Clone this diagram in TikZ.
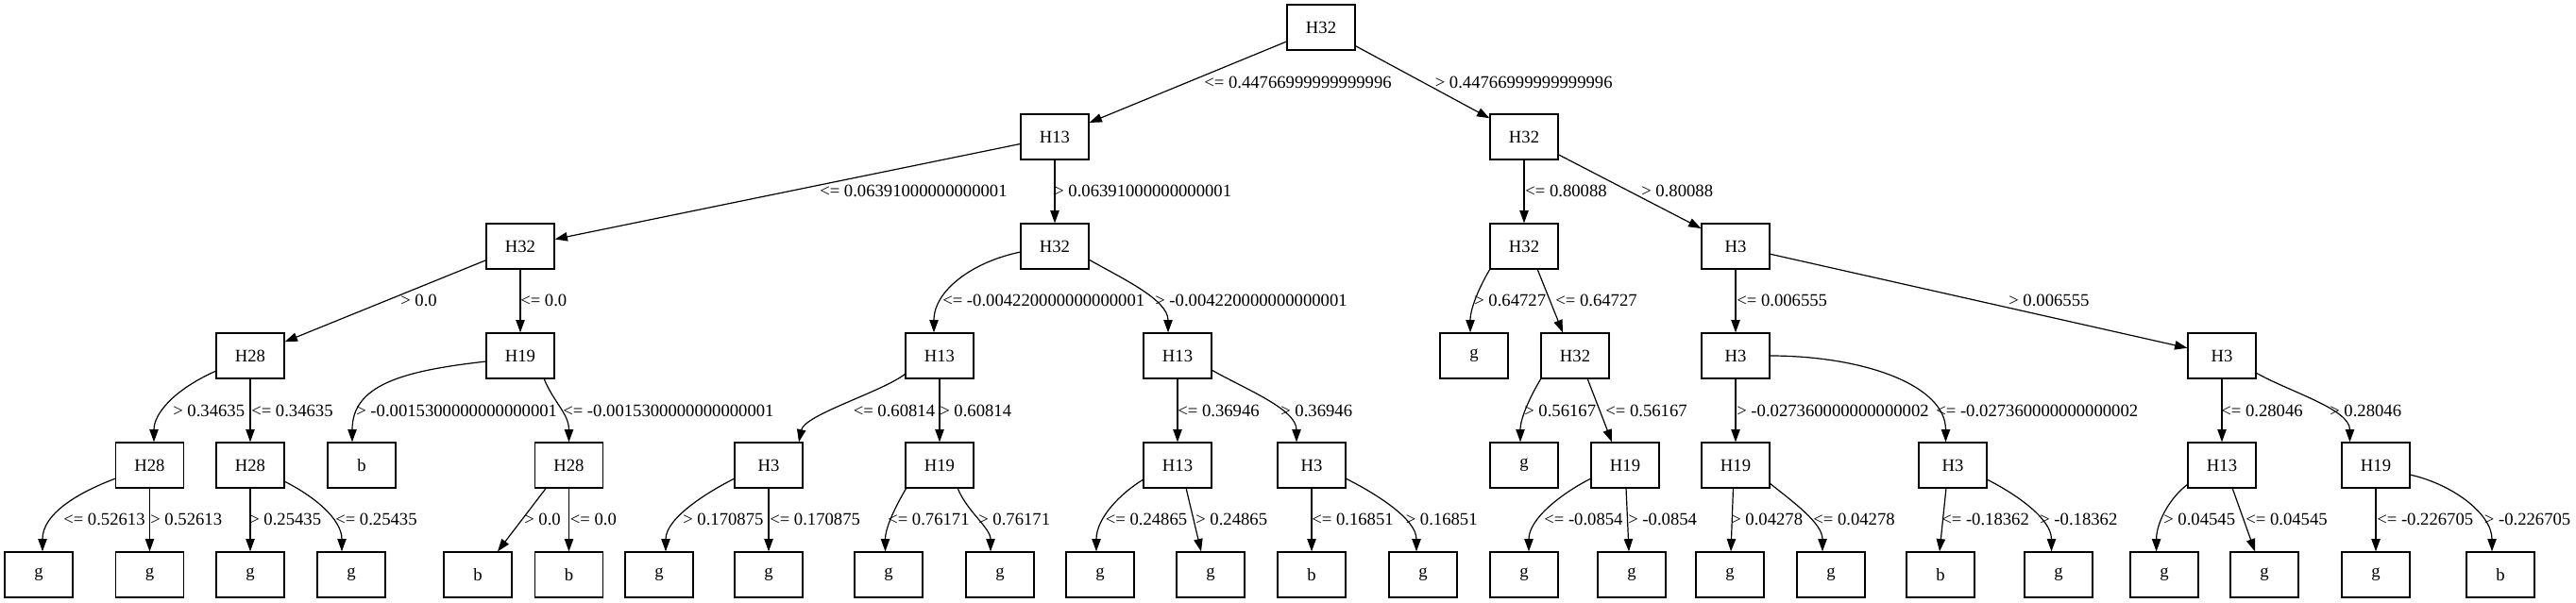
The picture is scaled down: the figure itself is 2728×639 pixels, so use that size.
\documentclass[tikz,border=0pt]{standalone}
\usepackage{fontspec}
\setmainfont{Liberation Serif}
\usetikzlibrary{arrows.meta,calc}
\begin{document}
\begin{tikzpicture}[x=0.75pt,y=-0.75pt,
  tn/.style={draw,line width=0.9pt,minimum width=54pt,minimum height=36pt,inner sep=0pt,font=\fontsize{14}{16}\selectfont},
  e/.style={-{Triangle[length=10pt,width=7pt]},line width=0.9pt},
  lb/.style={font=\fontsize{14}{16}\selectfont,inner sep=0pt,anchor=west}]
\useasboundingbox (0,0) rectangle (2728,639);
\fill[white] (0,0) rectangle (2728,639);
% level 0
\node[tn] (n0) at (1399,29) {H32};
% level 1
\node[tn] (n1a) at (1117,145) {H13};
\node[tn] (n1b) at (1614,145) {H32};
% level 2
\node[tn] (n2a) at (551,261) {H32};
\node[tn] (n2b) at (1117,261) {H32};
\node[tn] (n2c) at (1614,261) {H32};
\node[tn] (n2d) at (1838,261) {H3};
% level 3
\node[tn] (n3a) at (265,377) {H28};
\node[tn] (n3b) at (551,377) {H19};
\node[tn] (n3c) at (995,377) {H13};
\node[tn] (n3d) at (1247,377) {H13};
\node[tn] (n3e) at (1561,377) {g};
\node[tn] (n3f) at (1668,377) {H32};
\node[tn] (n3g) at (1838,377) {H3};
\node[tn] (n3h) at (2353,377) {H3};
% level 4
\node[tn] (n4a) at (158.5,493) {H28};
\node[tn] (n4b) at (265,493) {H28};
\node[tn] (n4c) at (383,493) {b};
\node[tn] (n4d) at (602.5,493) {H28};
\node[tn] (n4e) at (814,493) {H3};
\node[tn] (n4f) at (995,493) {H19};
\node[tn] (n4g) at (1247,493) {H13};
\node[tn] (n4h) at (1389,493) {H3};
\node[tn] (n4i) at (1614,493) {g};
\node[tn] (n4j) at (1721,493) {H19};
\node[tn] (n4k) at (1838,493) {H19};
\node[tn] (n4l) at (2068,493) {H3};
\node[tn] (n4m) at (2353,493) {H13};
\node[tn] (n4n) at (2516,493) {H19};
% level 5
\node[tn] (l1) at (41,609) {g};
\node[tn] (l2) at (158.5,609) {g};
\node[tn] (l3) at (265,609) {g};
\node[tn] (l4) at (372,609) {g};
\node[tn] (l5) at (506,609) {b};
\node[tn] (l6) at (602.5,609) {b};
\node[tn] (l7) at (698,609) {g};
\node[tn] (l8) at (814,609) {g};
\node[tn] (l9) at (941,609) {g};
\node[tn] (l10) at (1059,609) {g};
\node[tn] (l11) at (1165,609) {g};
\node[tn] (l12) at (1282,609) {g};
\node[tn] (l13) at (1389,609) {b};
\node[tn] (l14) at (1507,609) {g};
\node[tn] (l15) at (1614,609) {g};
\node[tn] (l16) at (1728,609) {g};
\node[tn] (l17) at (1832,609) {g};
\node[tn] (l18) at (1939,609) {g};
\node[tn] (l19) at (2055,609) {b};
\node[tn] (l20) at (2180,609) {g};
\node[tn] (l21) at (2292,609) {g};
\node[tn] (l22) at (2398,609) {g};
\node[tn] (l23) at (2516,609) {g};
\node[tn] (l24) at (2648,609) {b};

% straight edges
\draw[e] (n0) -- (n1a);
\draw[e] (n0) -- (n1b);
\draw[e] (n1a) -- (n2a);
\draw[e] (n1a) -- (n2b);
\draw[e] (n1b) -- (n2c);
\draw[e] (n1b) -- (n2d);
\draw[e] (n2a) -- (n3a);
\draw[e] (n2a) -- (n3b);
\draw[e] (n2d) -- (n3g);
\draw[e] (n2d) -- (n3h);
\draw[e] (n3a) -- (n4b);
\draw[e] (n3c) -- (n4f);
\draw[e] (n3d) -- (n4g);
\draw[e] (n3g) -- (n4k);
\draw[e] (n3h) -- (n4m);
\draw[e] (n4a) -- (l2);
\draw[e] (n4b) -- (l3);
\draw[e] (n4d) -- (l6);
\draw[e] (n4e) -- (l8);
\draw[e] (n4h) -- (l13);
\draw[e] (n4n) -- (l23);

% level 2 -> 3 curved
\draw[e] ($(n2b)+(-36,6)$) .. controls +(-50,10) and +(0,-45) .. ($(n3c.north)+(-6,0)$);
\draw[e] ($(n2b)+(36,14)$) .. controls +(35,20) and +(0,-35) .. ($(n3d.north)+(-10,0)$);
\draw[e] ($(n2c)+(-36,24)$) .. controls +(-12,20) and +(0,-25) .. ($(n3e.north)+(-4,0)$);
\draw[e] ($(n2c)+(14,24)$) -- ($(n3f.north)+(-13,0)$);
% level 3 -> 4
\draw[e] ($(n3a)+(-36,16)$) .. controls +(-45,20) and +(0,-30) .. ($(n4a.north)+(4.5,0)$);
\draw[e] ($(n3b)+(-36,6)$) .. controls +(-90,10) and +(0,-60) .. ($(n4c.north)+(-10,0)$);
\draw[e] ($(n3b)+(25,24)$) .. controls +(10,25) and +(0,-30) .. (n4d.north);
\draw[e] ($(n3c)+(-36,19)$) .. controls +(-24,19) and +(6,-29) .. ($(n4e.north)+(32,0)$);
\draw[e] ($(n3d)+(36,15)$) .. controls +(35,20) and +(0,-35) .. ($(n4h.north)+(-16,0)$);
\draw[e] ($(n3f)+(-36,24)$) .. controls +(-12,20) and +(0,-25) .. ($(n4i.north)+(-4,0)$);
\draw[e] ($(n3f)+(13,24)$) -- ($(n4j.north)+(-14,0)$);
\draw[e] ($(n3g)+(36,0)$) .. controls +(100,0) and +(0,-60) .. ($(n4l.north)+(-7.5,0)$);
\draw[e] ($(n3h)+(36,18)$) .. controls +(35,20) and +(0,-35) .. ($(n4n.north)+(-27.5,0)$);
% level 4 -> 5
\draw[e] ($(n4a)+(-36,14)$) .. controls +(-40,15) and +(0,-40) .. ($(l1.north)+(4,0)$);
\draw[e] ($(n4b)+(36,17)$) .. controls +(30,15) and +(0,-35) .. ($(l4.north)+(-10,0)$);
\draw[e] ($(n4d)+(-24,24)$) -- ($(l5.north)+(21,0)$);
\draw[e] ($(n4e)+(-36,14)$) .. controls +(-30,15) and +(0,-35) .. ($(l7.north)+(7,0)$);
\draw[e] ($(n4f)+(-35,24)$) .. controls +(-12,20) and +(0,-25) .. ($(l9.north)+(-3.5,0)$);
\draw[e] ($(n4f)+(19,24)$) .. controls +(10,25) and +(0,-25) .. ($(l10.north)+(-10,0)$);
\draw[e] ($(n4g)+(-36,15)$) .. controls +(-25,15) and +(0,-35) .. ($(l11.north)+(-4,0)$);
\draw[e] ($(n4g)+(9,24)$) -- ($(l12.north)+(-10,0)$);
\draw[e] ($(n4h)+(36,14)$) .. controls +(30,15) and +(0,-35) .. ($(l14.north)+(-7,0)$);
\draw[e] ($(n4j)+(-36,14)$) .. controls +(-30,15) and +(0,-35) .. ($(l15.north)+(5,0)$);
\draw[e] ($(n4j)+(1,24)$) -- ($(l16.north)+(-3,0)$);
\draw[e] ($(n4k)+(-2.5,24)$) -- ($(l17.north)+(1,0)$);
\draw[e] ($(n4k)+(36,19)$) .. controls +(25,20) and +(0,-30) .. ($(l18.north)+(-9,0)$);
\draw[e] ($(n4l)+(-7,24)$) -- ($(l19.north)+(-1,0)$);
\draw[e] ($(n4l)+(36,15)$) .. controls +(30,15) and +(0,-35) .. ($(l20.north)+(-7.5,0)$);
\draw[e] ($(n4m)+(-36,20)$) .. controls +(-20,15) and +(0,-30) .. ($(l21.north)+(-8.4,0)$);
\draw[e] ($(n4m)+(11,24)$) -- ($(l22.north)+(-10,0)$);
\draw[e] ($(n4n)+(36,10)$) .. controls +(45,10) and +(0,-40) .. ($(l24.north)+(-9,0)$);

% labels 0-1
\node[lb] (t01) at (1275,87) {<= 0.44766999999999996};
\node[lb] (t02) at (1519.5,87) {> 0.44766999999999996};
% labels 1-2
\node[lb] (t11) at (868,202) {<= 0.06391000000000001};
\node[lb] (t12) at (1116,202) {> 0.06391000000000001};
\node[lb] (t13) at (1615,202) {<= 0.80088};
\node[lb] (t14) at (1738,202) {> 0.80088};
% labels 2-3
\node[lb] (t21) at (424,318) {> 0.0};
\node[lb] (t22) at (551,318) {<= 0.0};
\node[lb] (t23) at (998,318) {<= -0.004220000000000001};
\node[lb] (t24) at (1223,318) {> -0.004220000000000001};
\node[lb] (t25) at (1561,318) {> 0.64727};
\node[lb] (t26) at (1647,318) {<= 0.64727};
\node[lb] (t27) at (1839,318) {<= 0.006555};
\node[lb] (t28) at (2127,318) {> 0.006555};
% labels 3-4
\node[lb] (t31) at (183,435) {> 0.34635};
\node[lb] (t32) at (266,435) {<= 0.34635};
\node[lb] (t33) at (377,435) {> -0.0015300000000000001};
\node[lb] (t34) at (596,435) {<= -0.0015300000000000001};
\node[lb] (t35) at (903.5,435) {<= 0.60814};
\node[lb] (t36) at (995,435) {> 0.60814};
\node[lb] (t37) at (1247,435) {<= 0.36946};
\node[lb] (t38) at (1356,435) {> 0.36946};
\node[lb] (t39) at (1614,435) {> 0.56167};
\node[lb] (t310) at (1700,435) {<= 0.56167};
\node[lb] (t311) at (1839,435) {> -0.027360000000000002};
\node[lb] (t312) at (2050,435) {<= -0.027360000000000002};
\node[lb] (t313) at (2352,435) {<= 0.28046};
\node[lb] (t314) at (2467,435) {> 0.28046};
% labels 4-5
\node[lb] (t41) at (67,550) {<= 0.52613};
\node[lb] (t42) at (159,550) {> 0.52613};
\node[lb] (t43) at (264,550) {> 0.25435};
\node[lb] (t44) at (355,550) {<= 0.25435};
\node[lb] (t45) at (555,550) {> 0.0};
\node[lb] (t46) at (603.6,550) {<= 0.0};
\node[lb] (t47) at (723,550) {> 0.170875};
\node[lb] (t48) at (815,550) {<= 0.170875};
\node[lb] (t49) at (940,550) {<= 0.76171};
\node[lb] (t410) at (1036,550) {> 0.76171};
\node[lb] (t411) at (1170.5,550) {<= 0.24865};
\node[lb] (t412) at (1266,550) {> 0.24865};
\node[lb] (t413) at (1389,550) {<= 0.16851};
\node[lb] (t414) at (1488.5,550) {> 0.16851};
\node[lb] (t415) at (1635,550) {<= -0.0854};
\node[lb] (t416) at (1724,550) {> -0.0854};
\node[lb] (t417) at (1833,550) {> 0.04278};
\node[lb] (t418) at (1920,550) {<= 0.04278};
\node[lb] (t419) at (2056,550) {<= -0.18362};
\node[lb] (t420) at (2160,550) {> -0.18362};
\node[lb] (t421) at (2291,550) {> 0.04545};
\node[lb] (t422) at (2378,550) {<= 0.04545};
\node[lb] (t423) at (2517,550) {<= -0.226705};
\node[lb] (t424) at (2630.6,550) {> -0.226705};
\end{tikzpicture}
\end{document}
